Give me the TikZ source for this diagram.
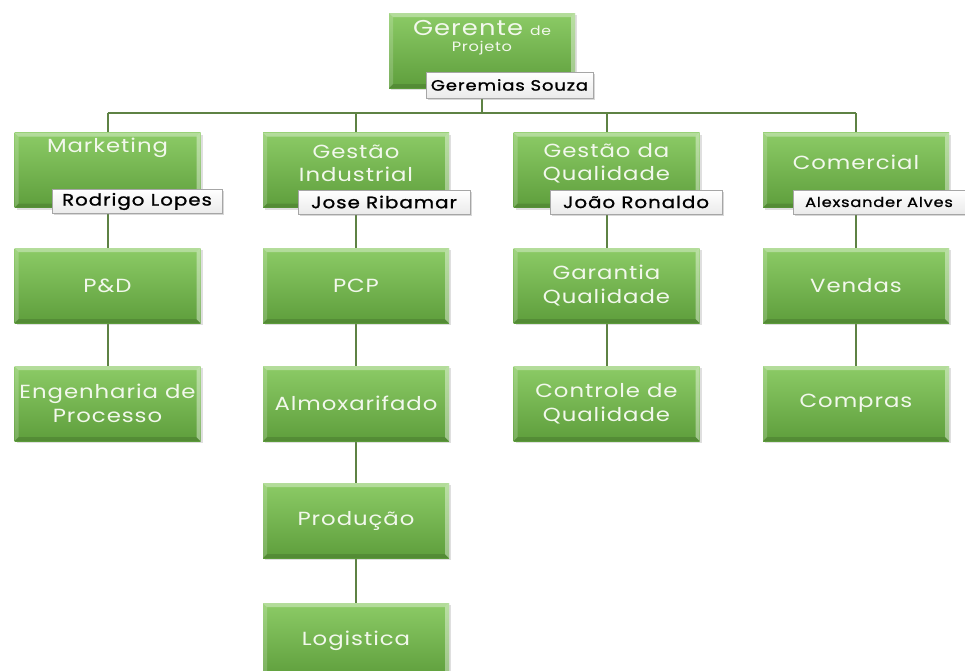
\documentclass[tikz,border=0pt]{standalone}
\usepackage{fontspec}
\setmainfont{Poppins}
\newfontfamily\boxfont{Poppins}[FakeStretch=1.2,LetterSpace=5]
\newfontfamily\lblfont{Poppins}[FakeStretch=1.2,LetterSpace=6,FakeBold=1.2]
\usetikzlibrary{backgrounds,shadows}
\definecolor{gtop}{HTML}{8CCB66}
\definecolor{gbot}{HTML}{5E9E3C}
\definecolor{gtext}{HTML}{F2F8EC}
\definecolor{conn}{HTML}{5E8244}
\tikzset{
  box/.style={rectangle, minimum width=186pt, minimum height=75pt, inner sep=0pt,
    top color=gtop, bottom color=gbot, draw=none,
    drop shadow={shadow xshift=2pt, shadow yshift=-2pt, opacity=0.25},
    text=gtext, align=center, font=\boxfont\fontsize{19}{24}\selectfont,
    path picture={
      \fill[white,opacity=0.35] (path picture bounding box.north west) -- (path picture bounding box.north east)
        -- ([xshift=-4pt,yshift=-4pt]path picture bounding box.north east) -- ([xshift=4pt,yshift=-4pt]path picture bounding box.north west) -- cycle;
      \fill[white,opacity=0.18] (path picture bounding box.north west) -- (path picture bounding box.south west)
        -- ([xshift=4pt,yshift=4pt]path picture bounding box.south west) -- ([xshift=4pt,yshift=-4pt]path picture bounding box.north west) -- cycle;
      \fill[black,opacity=0.12] (path picture bounding box.south west) -- (path picture bounding box.south east)
        -- ([xshift=-4pt,yshift=4pt]path picture bounding box.south east) -- ([xshift=4pt,yshift=4pt]path picture bounding box.south west) -- cycle;
      \fill[white,opacity=0.4] (path picture bounding box.north east) -- (path picture bounding box.south east)
        -- ([xshift=-4pt,yshift=4pt]path picture bounding box.south east) -- ([xshift=-4pt,yshift=-4pt]path picture bounding box.north east) -- cycle;
    }},
  boxtext/.style={text=gtext, align=center, inner sep=0pt, font=\boxfont\fontsize{19}{23}\selectfont},
  namelabel/.style={rectangle, minimum width=172pt, minimum height=24pt, inner sep=0pt,
    top color=white, bottom color=black!8, draw=black!35, line width=0.8pt,
    drop shadow={shadow xshift=1.5pt, shadow yshift=-1.5pt, opacity=0.3},
    text=black, font=\lblfont\fontsize{16.5}{18}\selectfont},
  connector/.style={draw=conn, line width=2pt}
}
\begin{document}
\begin{tikzpicture}[x=1pt,y=-1pt]
\useasboundingbox (0,0) rectangle (965,670);

% top
\node[box] (gp) at (482,50.5) {};
\node[boxtext] (gpt) at (482,38) {{\fontsize{21.5}{22}\selectfont Gerente} {\fontsize{13}{14}\selectfont de}\\[-7pt]{\fontsize{13.5}{14}\selectfont Projeto}};
\node[namelabel, minimum width=167pt, minimum height=26pt, font=\lblfont\fontsize{15}{17}\selectfont] (gpn) at (509.5,85) {Geremias Souza};
\coordinate (bus) at (482,113);

% level 1
\node[box] (mkt) at (107.5,170) {};
\node[boxtext] (mktt) at (107.5,148) {Marketing};
\node[namelabel, minimum width=170pt] (mktn) at (137,201.5) {Rodrigo Lopes};

\node[box] (gi) at (356,170) {};
\node[boxtext] (git) at (356,163) {Gestão\\Industrial};
\node[namelabel] (gin) at (384,202) {Jose Ribamar};

\node[box] (gq) at (606.5,170) {};
\node[boxtext] (gqt) at (606.5,163) {Gestão da\\Qualidade};
\node[namelabel] (gqn) at (636,202) {João Ronaldo};

\node[box] (com) at (856,170) {};
\node[boxtext] (comt) at (856,162) {Comercial};
\node[namelabel, font=\lblfont\fontsize{13.5}{15}\selectfont] (comn) at (879,202) {Alexsander Alves};

% level 2
\node[box] (pd) at (107.5,285.5) {P\&D};
\node[box] (pcp) at (356,285.5) {PCP};
\node[box] (gar) at (606.5,285.5) {Garantia\\Qualidade};
\node[box] (ven) at (856,285.5) {Vendas};

% level 3
\node[box] (eng) at (107.5,403.5) {Engenharia de\\Processo};
\node[box] (alm) at (356,403.5) {Almoxarifado};
\node[box] (ctl) at (606.5,403.5) {Controle de\\Qualidade};
\node[box] (cmp) at (856,403.5) {Compras};

% level 4, 5
\node[box] (prd) at (356,520.5) {Produção};
\node[box] (log) at (356,640.5) {Logistica};

\begin{scope}[on background layer]
  \fill[white] (0,0) rectangle (965,670);
  \draw[connector] (gp.south) -- (bus);
  \draw[connector] (bus -| mkt.north) -- (bus -| com.north);
  \foreach \n in {mkt,gi,gq,com} \draw[connector] (bus -| \n.north) -- (\n.north);
  \draw[connector] (mkt.south) -- (pd.north);
  \draw[connector] (pd.south) -- (eng.north);
  \draw[connector] (gi.south) -- (pcp.north);
  \draw[connector] (pcp.south) -- (alm.north);
  \draw[connector] (alm.south) -- (prd.north);
  \draw[connector] (prd.south) -- (log.north);
  \draw[connector] (gq.south) -- (gar.north);
  \draw[connector] (gar.south) -- (ctl.north);
  \draw[connector] (com.south) -- (ven.north);
  \draw[connector] (ven.south) -- (cmp.north);
\end{scope}
\end{tikzpicture}
\end{document}
